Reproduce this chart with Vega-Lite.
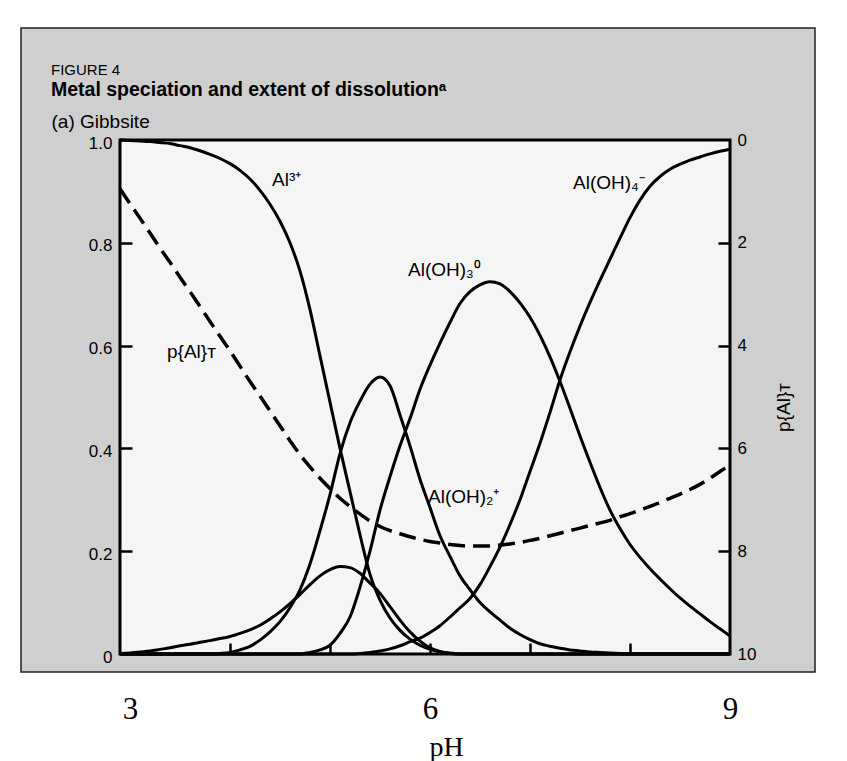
{
  "$schema": "https://vega.github.io/schema/vega-lite/v6.json",
  "width": 610,
  "height": 514,
  "autosize": {"type": "none"},
  "padding": {"left": 120, "top": 140, "right": 117, "bottom": 107},
  "background": "white",
  "config": {
    "view": {"stroke": null},
    "font": "Liberation Sans",
    "axis": {"zindex": 1, "domain": false, "grid": false, "tickColor": "black", "tickWidth": 2.5, "labelColor": "black", "titleColor": "black", "labelFlush": false, "labelOverlap": false}
  },
  "title": {
    "text": "FIGURE 4",
    "subtitle": "Metal speciation and extent of dissolutionᵃ",
    "anchor": "start",
    "frame": "group",
    "dx": -69,
    "dy": 88,
    "offset": 16,
    "font": "Liberation Sans",
    "fontSize": 15,
    "fontWeight": "normal",
    "color": "black",
    "subtitleFont": "Liberation Sans",
    "subtitleFontSize": 19.5,
    "subtitleFontWeight": "bold",
    "subtitleColor": "black",
    "subtitlePadding": 3
  },
  "datasets": {
    "spec": [
      {"pH": 2.9, "Al3": 1.0, "AlOH": 0.001, "AlOH2": 0, "AlOH3": 0, "AlOH4": 0, "pAl": 0.95},
      {"pH": 3.0, "Al3": 0.999, "AlOH": 0.002, "AlOH2": 0, "AlOH3": 0, "AlOH4": 0, "pAl": 1.24},
      {"pH": 3.1, "Al3": 0.998, "AlOH": 0.004, "AlOH2": 0, "AlOH3": 0, "AlOH4": 0, "pAl": 1.52},
      {"pH": 3.2, "Al3": 0.997, "AlOH": 0.006, "AlOH2": 0, "AlOH3": 0, "AlOH4": 0, "pAl": 1.81},
      {"pH": 3.3, "Al3": 0.995, "AlOH": 0.009, "AlOH2": 0, "AlOH3": 0, "AlOH4": 0, "pAl": 2.1},
      {"pH": 3.4, "Al3": 0.993, "AlOH": 0.012, "AlOH2": 0, "AlOH3": 0, "AlOH4": 0, "pAl": 2.38},
      {"pH": 3.5, "Al3": 0.989, "AlOH": 0.016, "AlOH2": 0, "AlOH3": 0, "AlOH4": 0, "pAl": 2.67},
      {"pH": 3.6, "Al3": 0.985, "AlOH": 0.019, "AlOH2": 0, "AlOH3": 0, "AlOH4": 0, "pAl": 2.95},
      {"pH": 3.7, "Al3": 0.979, "AlOH": 0.023, "AlOH2": 0, "AlOH3": 0, "AlOH4": 0, "pAl": 3.24},
      {"pH": 3.8, "Al3": 0.972, "AlOH": 0.026, "AlOH2": 0, "AlOH3": 0, "AlOH4": 0, "pAl": 3.53},
      {"pH": 3.9, "Al3": 0.964, "AlOH": 0.03, "AlOH2": 0.001, "AlOH3": 0, "AlOH4": 0, "pAl": 3.82},
      {"pH": 4.0, "Al3": 0.954, "AlOH": 0.034, "AlOH2": 0.003, "AlOH3": 0, "AlOH4": 0, "pAl": 4.1},
      {"pH": 4.1, "Al3": 0.941, "AlOH": 0.04, "AlOH2": 0.008, "AlOH3": 0, "AlOH4": 0, "pAl": 4.4},
      {"pH": 4.2, "Al3": 0.924, "AlOH": 0.047, "AlOH2": 0.015, "AlOH3": 0, "AlOH4": 0, "pAl": 4.7},
      {"pH": 4.3, "Al3": 0.902, "AlOH": 0.056, "AlOH2": 0.027, "AlOH3": 0, "AlOH4": 0, "pAl": 4.98},
      {"pH": 4.4, "Al3": 0.875, "AlOH": 0.068, "AlOH2": 0.043, "AlOH3": 0, "AlOH4": 0, "pAl": 5.27},
      {"pH": 4.5, "Al3": 0.842, "AlOH": 0.082, "AlOH2": 0.063, "AlOH3": 0, "AlOH4": 0, "pAl": 5.56},
      {"pH": 4.6, "Al3": 0.8, "AlOH": 0.098, "AlOH2": 0.09, "AlOH3": 0, "AlOH4": 0, "pAl": 5.85},
      {"pH": 4.7, "Al3": 0.745, "AlOH": 0.116, "AlOH2": 0.125, "AlOH3": 0, "AlOH4": 0, "pAl": 6.12},
      {"pH": 4.8, "Al3": 0.67, "AlOH": 0.135, "AlOH2": 0.175, "AlOH3": 0.003, "AlOH4": 0, "pAl": 6.36},
      {"pH": 4.9, "Al3": 0.58, "AlOH": 0.152, "AlOH2": 0.24, "AlOH3": 0.008, "AlOH4": 0, "pAl": 6.58},
      {"pH": 5.0, "Al3": 0.49, "AlOH": 0.164, "AlOH2": 0.31, "AlOH3": 0.017, "AlOH4": 0, "pAl": 6.78},
      {"pH": 5.1, "Al3": 0.4, "AlOH": 0.17, "AlOH2": 0.39, "AlOH3": 0.04, "AlOH4": 0, "pAl": 6.97},
      {"pH": 5.2, "Al3": 0.316, "AlOH": 0.168, "AlOH2": 0.45, "AlOH3": 0.072, "AlOH4": 0, "pAl": 7.13},
      {"pH": 5.3, "Al3": 0.232, "AlOH": 0.157, "AlOH2": 0.492, "AlOH3": 0.13, "AlOH4": 0.001, "pAl": 7.28},
      {"pH": 5.4, "Al3": 0.155, "AlOH": 0.138, "AlOH2": 0.525, "AlOH3": 0.2, "AlOH4": 0.003, "pAl": 7.41},
      {"pH": 5.5, "Al3": 0.105, "AlOH": 0.118, "AlOH2": 0.539, "AlOH3": 0.28, "AlOH4": 0.006, "pAl": 7.52},
      {"pH": 5.6, "Al3": 0.07, "AlOH": 0.092, "AlOH2": 0.522, "AlOH3": 0.345, "AlOH4": 0.01, "pAl": 7.6},
      {"pH": 5.7, "Al3": 0.046, "AlOH": 0.066, "AlOH2": 0.465, "AlOH3": 0.405, "AlOH4": 0.016, "pAl": 7.66},
      {"pH": 5.8, "Al3": 0.029, "AlOH": 0.043, "AlOH2": 0.405, "AlOH3": 0.458, "AlOH4": 0.024, "pAl": 7.72},
      {"pH": 5.9, "Al3": 0.017, "AlOH": 0.025, "AlOH2": 0.34, "AlOH3": 0.515, "AlOH4": 0.031, "pAl": 7.77},
      {"pH": 6.0, "Al3": 0.009, "AlOH": 0.012, "AlOH2": 0.285, "AlOH3": 0.562, "AlOH4": 0.042, "pAl": 7.81},
      {"pH": 6.1, "Al3": 0.004, "AlOH": 0.005, "AlOH2": 0.23, "AlOH3": 0.605, "AlOH4": 0.055, "pAl": 7.84},
      {"pH": 6.2, "Al3": 0.001, "AlOH": 0.002, "AlOH2": 0.19, "AlOH3": 0.645, "AlOH4": 0.072, "pAl": 7.87},
      {"pH": 6.3, "Al3": 0, "AlOH": 0, "AlOH2": 0.152, "AlOH3": 0.682, "AlOH4": 0.09, "pAl": 7.89},
      {"pH": 6.4, "Al3": 0, "AlOH": 0, "AlOH2": 0.125, "AlOH3": 0.705, "AlOH4": 0.108, "pAl": 7.9},
      {"pH": 6.5, "Al3": 0, "AlOH": 0, "AlOH2": 0.1, "AlOH3": 0.718, "AlOH4": 0.135, "pAl": 7.9},
      {"pH": 6.6, "Al3": 0, "AlOH": 0, "AlOH2": 0.082, "AlOH3": 0.724, "AlOH4": 0.17, "pAl": 7.9},
      {"pH": 6.7, "Al3": 0, "AlOH": 0, "AlOH2": 0.066, "AlOH3": 0.72, "AlOH4": 0.208, "pAl": 7.88},
      {"pH": 6.8, "Al3": 0, "AlOH": 0, "AlOH2": 0.05, "AlOH3": 0.705, "AlOH4": 0.252, "pAl": 7.86},
      {"pH": 6.9, "Al3": 0, "AlOH": 0, "AlOH2": 0.038, "AlOH3": 0.683, "AlOH4": 0.3, "pAl": 7.83},
      {"pH": 7.0, "Al3": 0, "AlOH": 0, "AlOH2": 0.028, "AlOH3": 0.655, "AlOH4": 0.355, "pAl": 7.79},
      {"pH": 7.1, "Al3": 0, "AlOH": 0, "AlOH2": 0.02, "AlOH3": 0.62, "AlOH4": 0.41, "pAl": 7.75},
      {"pH": 7.2, "Al3": 0, "AlOH": 0, "AlOH2": 0.015, "AlOH3": 0.578, "AlOH4": 0.47, "pAl": 7.7},
      {"pH": 7.3, "Al3": 0, "AlOH": 0, "AlOH2": 0.011, "AlOH3": 0.53, "AlOH4": 0.533, "pAl": 7.65},
      {"pH": 7.4, "Al3": 0, "AlOH": 0, "AlOH2": 0.008, "AlOH3": 0.478, "AlOH4": 0.588, "pAl": 7.6},
      {"pH": 7.5, "Al3": 0, "AlOH": 0, "AlOH2": 0.006, "AlOH3": 0.424, "AlOH4": 0.638, "pAl": 7.55},
      {"pH": 7.6, "Al3": 0, "AlOH": 0, "AlOH2": 0.004, "AlOH3": 0.373, "AlOH4": 0.684, "pAl": 7.5},
      {"pH": 7.7, "Al3": 0, "AlOH": 0, "AlOH2": 0.003, "AlOH3": 0.324, "AlOH4": 0.727, "pAl": 7.45},
      {"pH": 7.8, "Al3": 0, "AlOH": 0, "AlOH2": 0.002, "AlOH3": 0.28, "AlOH4": 0.768, "pAl": 7.4},
      {"pH": 7.9, "Al3": 0, "AlOH": 0, "AlOH2": 0.001, "AlOH3": 0.244, "AlOH4": 0.809, "pAl": 7.33},
      {"pH": 8.0, "Al3": 0, "AlOH": 0, "AlOH2": 0, "AlOH3": 0.213, "AlOH4": 0.849, "pAl": 7.27},
      {"pH": 8.1, "Al3": 0, "AlOH": 0, "AlOH2": 0, "AlOH3": 0.188, "AlOH4": 0.883, "pAl": 7.2},
      {"pH": 8.2, "Al3": 0, "AlOH": 0, "AlOH2": 0, "AlOH3": 0.166, "AlOH4": 0.91, "pAl": 7.13},
      {"pH": 8.3, "Al3": 0, "AlOH": 0, "AlOH2": 0, "AlOH3": 0.146, "AlOH4": 0.929, "pAl": 7.05},
      {"pH": 8.4, "Al3": 0, "AlOH": 0, "AlOH2": 0, "AlOH3": 0.127, "AlOH4": 0.943, "pAl": 6.97},
      {"pH": 8.5, "Al3": 0, "AlOH": 0, "AlOH2": 0, "AlOH3": 0.109, "AlOH4": 0.953, "pAl": 6.89},
      {"pH": 8.6, "Al3": 0, "AlOH": 0, "AlOH2": 0, "AlOH3": 0.093, "AlOH4": 0.961, "pAl": 6.8},
      {"pH": 8.7, "Al3": 0, "AlOH": 0, "AlOH2": 0, "AlOH3": 0.078, "AlOH4": 0.967, "pAl": 6.7},
      {"pH": 8.8, "Al3": 0, "AlOH": 0, "AlOH2": 0, "AlOH3": 0.063, "AlOH4": 0.973, "pAl": 6.58},
      {"pH": 8.9, "Al3": 0, "AlOH": 0, "AlOH2": 0, "AlOH3": 0.049, "AlOH4": 0.978, "pAl": 6.45},
      {"pH": 9.0, "Al3": 0, "AlOH": 0, "AlOH2": 0, "AlOH3": 0.035, "AlOH4": 0.982, "pAl": 6.32}
    ],
    "labels": [
      {"pH": 4.42, "frac": 0.922, "txt": "Al³⁺"},
      {"pH": 7.43, "frac": 0.916, "txt": "Al(OH)₄⁻"},
      {"pH": 5.78, "frac": 0.747, "txt": "Al(OH)₃⁰"},
      {"pH": 5.98, "frac": 0.305, "txt": "Al(OH)₂⁺"},
      {"pH": 3.37, "frac": 0.588, "txt": "p{Al}ᴛ"}
    ]
  },
  "layer": [
    {
      "layer": [
        {
          "data": {"values": [{}]},
          "mark": {"type": "rect", "fill": "#cfcfcf", "stroke": "#222222", "strokeWidth": 1.5},
          "encoding": {
            "x": {"datum": 1.91, "type": "quantitative", "scale": {"domain": [2.9, 9], "nice": false, "zero": false}},
            "x2": {"datum": 9.85},
            "y": {"datum": 1.218, "type": "quantitative", "scale": {"domain": [0, 1], "nice": false, "zero": false}},
            "y2": {"datum": -0.035}
          }
        },
        {
          "data": {"values": [{}]},
          "mark": {"type": "rect", "fill": "#f5f5f5", "stroke": "black", "strokeWidth": 3},
          "encoding": {
            "x": {"datum": 2.9, "type": "quantitative", "scale": {"domain": [2.9, 9], "nice": false, "zero": false}},
            "x2": {"datum": 9},
            "y": {"datum": 0, "type": "quantitative", "scale": {"domain": [0, 1], "nice": false, "zero": false}},
            "y2": {"datum": 1}
          }
        },
        {
          "data": {"name": "spec"},
          "transform": [{"fold": ["Al3", "AlOH", "AlOH2", "AlOH3", "AlOH4"], "as": ["species", "frac"]}],
          "mark": {"type": "line", "color": "black", "strokeWidth": 3, "interpolate": "monotone"},
          "encoding": {
            "x": {
              "field": "pH", "type": "quantitative",
              "scale": {"domain": [2.9, 9], "nice": false, "zero": false},
              "axis": {
                "zindex": 2,
                "values": [3, 4, 5, 6, 7, 8, 9],
                "labelExpr": "datum.value % 3 === 0 ? format(datum.value, 'd') : ''",
                "labelFont": "Liberation Serif",
                "labelFontSize": 31,
                "labelBaseline": "alphabetic",
                "tickSize": -11,
                "labelPadding": 75,
                "tickOpacity": {"condition": {"test": "datum.value === 3 || datum.value === 9", "value": 0}, "value": 1},
                "title": "pH",
                "titleFont": "Liberation Serif",
                "titleFontSize": 28,
                "titleFontWeight": "normal",
                "titleX": 326,
                "titleY": 101,
                "titleAlign": "center",
                "titleBaseline": "alphabetic"
              }
            },
            "y": {
              "field": "frac", "type": "quantitative",
              "scale": {"domain": [0, 1], "nice": false, "zero": false},
              "axis": {
                "zindex": 2,
                "values": [0, 0.2, 0.4, 0.6, 0.8, 1],
                "labelExpr": "datum.value === 0 ? '0' : format(datum.value, '.1f')",
                "labelFontSize": 17,
                "labelOffset": 3,
                "tickSize": -12,
                "labelPadding": 20,
                "tickOpacity": {"condition": {"test": "datum.value === 0 || datum.value === 1", "value": 0}, "value": 1},
                "title": "(a) Gibbsite",
                "titleFontSize": 19,
                "titleFontWeight": "normal",
                "titleAngle": 0,
                "titleAlign": "left",
                "titleBaseline": "middle",
                "titleX": -69,
                "titleY": -19
              }
            },
            "detail": {"field": "species"}
          }
        },
        {
          "data": {"name": "labels"},
          "mark": {"type": "text", "align": "left", "baseline": "middle", "fontSize": 19, "color": "black", "font": "Liberation Sans"},
          "encoding": {
            "x": {"field": "pH", "type": "quantitative", "scale": {"domain": [2.9, 9], "nice": false, "zero": false}},
            "y": {"field": "frac", "type": "quantitative", "scale": {"domain": [0, 1], "nice": false, "zero": false}},
            "text": {"field": "txt"}
          }
        }
      ]
    },
    {
      "data": {"name": "spec"},
      "mark": {"type": "line", "color": "black", "strokeWidth": 3.5, "strokeDash": [17, 8], "interpolate": "monotone"},
      "encoding": {
        "x": {"field": "pH", "type": "quantitative", "scale": {"domain": [2.9, 9], "nice": false, "zero": false}},
        "y": {
          "field": "pAl", "type": "quantitative",
          "scale": {"domain": [0, 10], "reverse": true, "nice": false, "zero": false},
          "axis": {
            "zindex": 2,
            "orient": "right",
            "values": [0, 2, 4, 6, 8, 10],
            "labelFontSize": 17,
            "tickSize": -12,
            "labelPadding": 19,
            "tickOpacity": {"condition": {"test": "datum.value === 0 || datum.value === 10", "value": 0}, "value": 1},
            "title": "p{Al}ᴛ",
            "titleFontSize": 19,
            "titleFontWeight": "normal",
            "titleAngle": 270,
            "titleAlign": "center",
            "titleBaseline": "middle",
            "titleX": 53,
            "titleY": 267
          }
        }
      }
    }
  ],
  "resolve": {"scale": {"y": "independent"}}
}
